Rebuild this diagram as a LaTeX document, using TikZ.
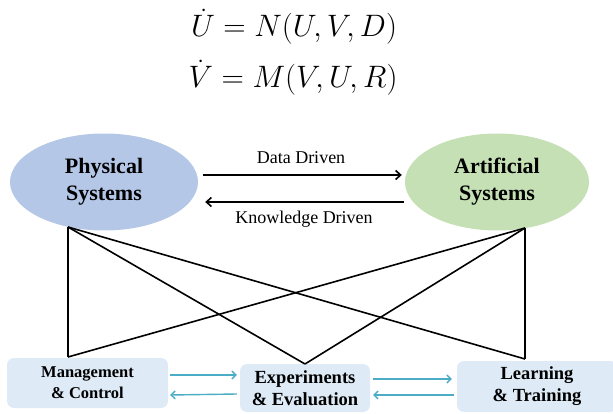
\RequirePackage{fix-cm}
\documentclass[tikz,border=0pt]{standalone}
\usepackage{fontspec}
\setmainfont{Liberation Serif}
\usetikzlibrary{arrows.meta,shapes.geometric}
\definecolor{physblue}{RGB}{180,199,231}
\definecolor{artigreen}{RGB}{197,224,180}
\definecolor{boxblue}{RGB}{222,235,247}
\definecolor{linkcyan}{RGB}{75,172,198}
\tikzset{
  sysnode/.style={ellipse, minimum height=97pt, inner sep=0pt, align=center, font=\fontsize{22}{27}\selectfont\bfseries},
  taskbox/.style={rectangle, rounded corners=7pt, fill=boxblue, inner sep=0pt, align=center},
  eqnode/.style={anchor=base, font=\fontsize{31}{36}\selectfont},
  link/.style={line width=1.6pt},
  flow/.style={line width=1.6pt, -{Straight Barb[length=5pt,width=9pt]}},
  cyanflow/.style={linkcyan, line width=1.4pt, -{Straight Barb[length=4pt,width=8pt]}},
}
\begin{document}
\begin{tikzpicture}[x=1pt,y=-1pt]
\useasboundingbox (0,0) rectangle (613,414);
% equations
\node[eqnode] (eq1) at (294,37) {$\dot U = N(U,V,D)$};
\node[eqnode] (eq2) at (293,88) {$\dot V = M(V,U,R)$};
% systems
\node[sysnode, fill=physblue, minimum width=188pt] (phys) at (104,182){Physical\\Systems};
\node[sysnode, fill=artigreen, minimum width=184pt] (arti) at (497,182){Artificial\\Systems};
\draw[flow]([xshift=5pt,yshift=7pt]phys.east) -- ([xshift=-3pt,yshift=7pt]arti.west);
\draw[flow]([xshift=-1pt,yshift=-20pt]arti.west) -- ([xshift=7pt,yshift=-20pt]phys.east);
\node[font=\fontsize{18}{20}\selectfont, anchor=base] (dd) at (301,164){Data Driven};
\node[font=\fontsize{18}{20}\selectfont, anchor=base] (kd) at (304,223){Knowledge Driven};
% tasks
\node[taskbox, minimum width=161pt, minimum height=50pt, font=\fontsize{16.5}{21}\selectfont\bfseries] (mgmt) at (87.5,383){Management\\\& Control};
\node[taskbox, minimum width=130pt, minimum height=48pt, font=\fontsize{18.5}{22}\selectfont\bfseries] (expe) at (305,388){Experiments\\\& Evaluation};
\node[taskbox, minimum width=160pt, minimum height=51pt, font=\fontsize{18.5}{22}\selectfont\bfseries] (lear) at (537,386.5){Learning\\\& Training};
\coordinate (pb) at (68,227);
\coordinate (ab) at (525,228);
\coordinate (mt) at (68,357);
\coordinate (et) at (305,364);
\coordinate (lt) at (525,359);
\draw[link](pb) -- (mt);
\draw[link](pb) -- (et);
\draw[link](pb) -- (lt);
\draw[link](ab) -- (lt);
\draw[link](ab) -- (et);
\draw[link](ab) -- (mt);
\draw[cyanflow]([xshift=2pt,yshift=8pt]mgmt.east) -- ([xshift=-3pt,yshift=13pt]expe.west);
\draw[cyanflow]([xshift=-3pt,yshift=-6pt]expe.west) -- ([xshift=2pt,yshift=-12pt]mgmt.east);
\draw[cyanflow]([xshift=3pt,yshift=9pt]expe.east) -- ([xshift=-5pt,yshift=7.5pt]lear.west);
\draw[cyanflow]([xshift=-3pt,yshift=-8.5pt]lear.west) -- ([xshift=3pt,yshift=-7pt]expe.east);
\end{tikzpicture}
\end{document}
